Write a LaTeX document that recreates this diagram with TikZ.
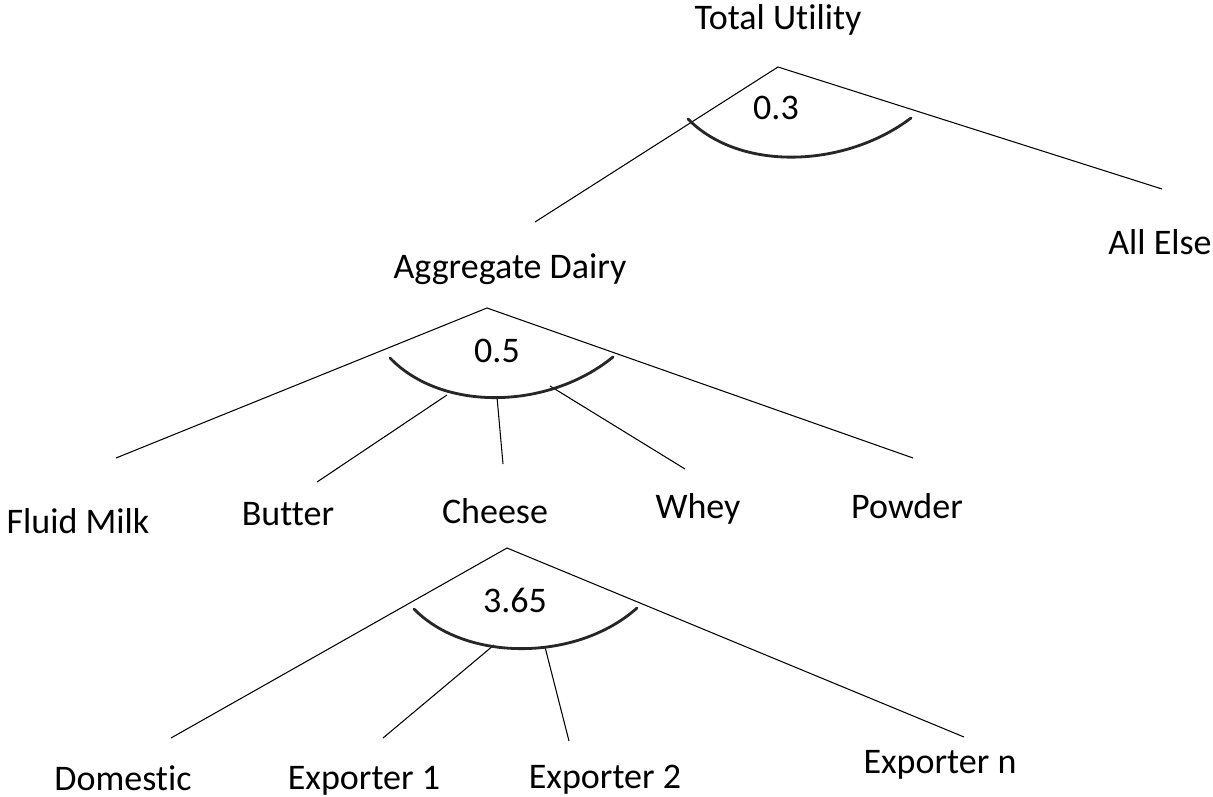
\documentclass[tikz,border=0pt]{standalone}
\usepackage{fontspec}
\setmainfont{Carlito}[Ligatures=NoCommon]
\tikzset{
  lbl/.style={anchor=base,inner sep=0pt,font=\fontsize{20.5}{24}\selectfont},
  branch/.style={line width=0.6pt},
  bowl/.style={line width=1.6pt,line cap=round,black!85},
}
\begin{document}
\begin{tikzpicture}[x=0.02cm,y=-0.02cm]
    \useasboundingbox (0,0) rectangle (1213,797);

    % top level
    \node[lbl] (total) at (778,30) {Total Utility};
    \node[lbl] (aggr) at (510,278) {Aggregate Dairy};
    \node[lbl] (else) at (1160,255) {All Else};
    \coordinate (topapex) at (778,67);
    \coordinate (aggrend) at (535,222);
    \coordinate (elseend) at (1162,189);
    \draw[branch] (aggrend) -- (topapex) -- (elseend);
    \draw[bowl] (688,119) .. controls (740,172) and (845,168) .. (911,118);
    \node[lbl] (sigtop) at (776,120) {0.3};

    % dairy products
    \node[lbl] (milk) at (78,533) {Fluid Milk};
    \node[lbl] (butter) at (288,525) {Butter};
    \node[lbl] (cheese) at (495,523) {Cheese};
    \node[lbl] (whey) at (698,518) {Whey};
    \node[lbl] (powder) at (907,518) {Powder};
    \coordinate (aggrapex) at (487,308);
    \coordinate (milkend) at (116,458);
    \coordinate (powderend) at (913,458);
    \draw[branch] (milkend) -- (aggrapex) -- (powderend);
    \draw[branch] (447,395) -- (317,482);
    \draw[branch] (497,397) -- (503,464);
    \draw[branch] (550,386) -- (685,469);
    \draw[bowl] (390,358) .. controls (442,412) and (548,410) .. (613,357);
    \node[lbl] (sigmid) at (497,362) {0.5};

    % cheese sources
    \node[lbl] (dom) at (123,790) {Domestic};
    \node[lbl] (expa) at (364,789) {Exporter 1};
    \node[lbl] (expb) at (605,788) {Exporter 2};
    \node[lbl] (expn) at (940,773) {Exporter n};
    \coordinate (cheeseapex) at (507,548);
    \coordinate (domend) at (171,738);
    \coordinate (expnend) at (964,737);
    \draw[branch] (domend) -- (cheeseapex) -- (expnend);
    \draw[branch] (494,645) -- (383,738);
    \draw[branch] (545,647) -- (569,741);
    \draw[bowl] (414,609) .. controls (467,663) and (578,661) .. (637,608);
    \node[lbl] (siglow) at (515,612) {3.65};

\end{tikzpicture}
\end{document}
